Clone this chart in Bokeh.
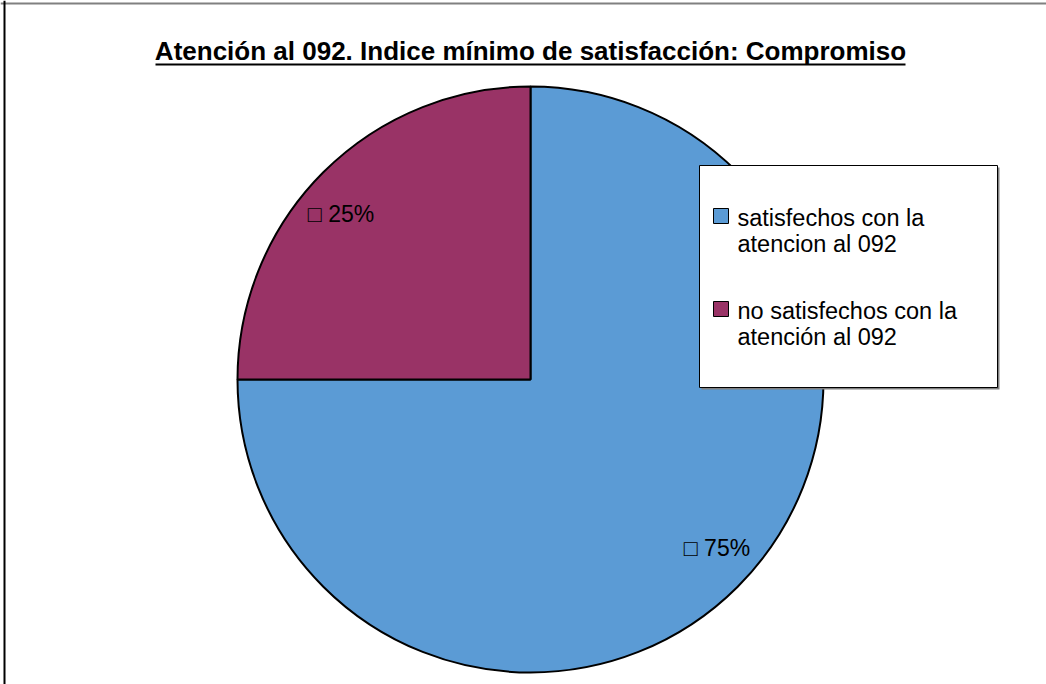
import numpy as np
from bokeh.plotting import figure
from bokeh.models import ColumnDataSource, Range1d, Span
from bokeh.core.properties import value
from bokeh.embed import file_html
from bokeh.resources import INLINE

# ---- data ----
title_text = "Atención al 092. Indice mínimo de satisfacción: Compromiso"
categories = ["satisfechos con la\natencion al 092", "no satisfechos con la\natención al 092"]
percent_values = [75, 25]
colors = ["#5B9BD5", "#993366"]

W, H = 1046, 684
p = figure(width=W, height=H, output_backend="svg", toolbar_location=None,
           x_range=Range1d(0, W), y_range=Range1d(0, H),
           x_axis_type=None, y_axis_type=None, min_border=0)
p.grid.visible = False
p.outline_line_color = None
p.background_fill_color = "white"
p.border_fill_color = "white"

def Y(sy):
    return H - sy

# frame border lines (top and left)
p.add_layout(Span(location=Y(3), dimension="width", line_color="#808080", line_width=2))
p.add_layout(Span(location=4, dimension="height", line_color="black", line_width=2))

# ---- pie ----
cx, cy, R = 530, Y(379), 293
vals = np.array(percent_values, dtype=float)
fr = vals / vals.sum()
cum = np.concatenate([[0], np.cumsum(fr)[:-1]])
end_a = np.pi / 2 - cum * 2 * np.pi
start_a = end_a - fr * 2 * np.pi
src = ColumnDataSource(dict(start=start_a, end=end_a, color=colors))
p.wedge(x=cx, y=cy, radius=R, start_angle="start", end_angle="end",
        fill_color="color", line_color="black", line_width=2, source=src)

# percent labels
mid = (start_a + end_a) / 2
lab_r = 251
off_x = [9, -12]
off_y = [9, -12]
lx = cx + lab_r * np.cos(mid) + np.array(off_x)
ly = cy + lab_r * np.sin(mid) + np.array(off_y)
lab_src = ColumnDataSource(dict(x=lx, y=ly, t=["\u25a1 %d%%" % v for v in percent_values]))
p.text(x="x", y="y", text="t", source=lab_src, text_align="center", text_baseline="middle",
       text_font=value("Liberation Sans"), text_font_size="23px", text_color="black")

# ---- title ----
p.text(x=[cx], y=[Y(50.5)], text=[title_text], text_align="center", text_baseline="middle",
       text_font=value("Liberation Sans"), text_font_style="bold", text_font_size="26px",
       text_color="black")
p.segment(x0=[cx - 375], y0=[Y(64)], x1=[cx + 375], y1=[Y(64)], line_color="black", line_width=2)

# ---- legend ----
bx0, bx1, by0, by1 = 699, 997, Y(387), Y(165)
p.quad(left=[bx0 + 2], right=[bx1 + 2], bottom=[by0 - 2], top=[by1 - 2], fill_color="#808080", line_color=None)
p.quad(left=[bx0], right=[bx1], bottom=[by0], top=[by1], fill_color="white", line_color="black", line_width=1)

sq_x, sq_y, tx, ty, tt = [], [], [], [], []
for i, cat in enumerate(categories):
    base = 217.5 + i * 93
    sq_x.append(720.5)
    sq_y.append(Y(base - 2))
    for j, line in enumerate(cat.split("\n")):
        tx.append(737)
        ty.append(Y(base + j * 26))
        tt.append(line)
p.rect(x=sq_x, y=sq_y, width=15, height=15, fill_color=colors, line_color="black", line_width=1)
p.text(x=tx, y=ty, text=tt, text_align="left", text_baseline="middle",
       text_font=value("Liberation Sans"), text_font_size="23.5px", text_color="black")

open("out.html", "w").write(file_html(p, INLINE))
